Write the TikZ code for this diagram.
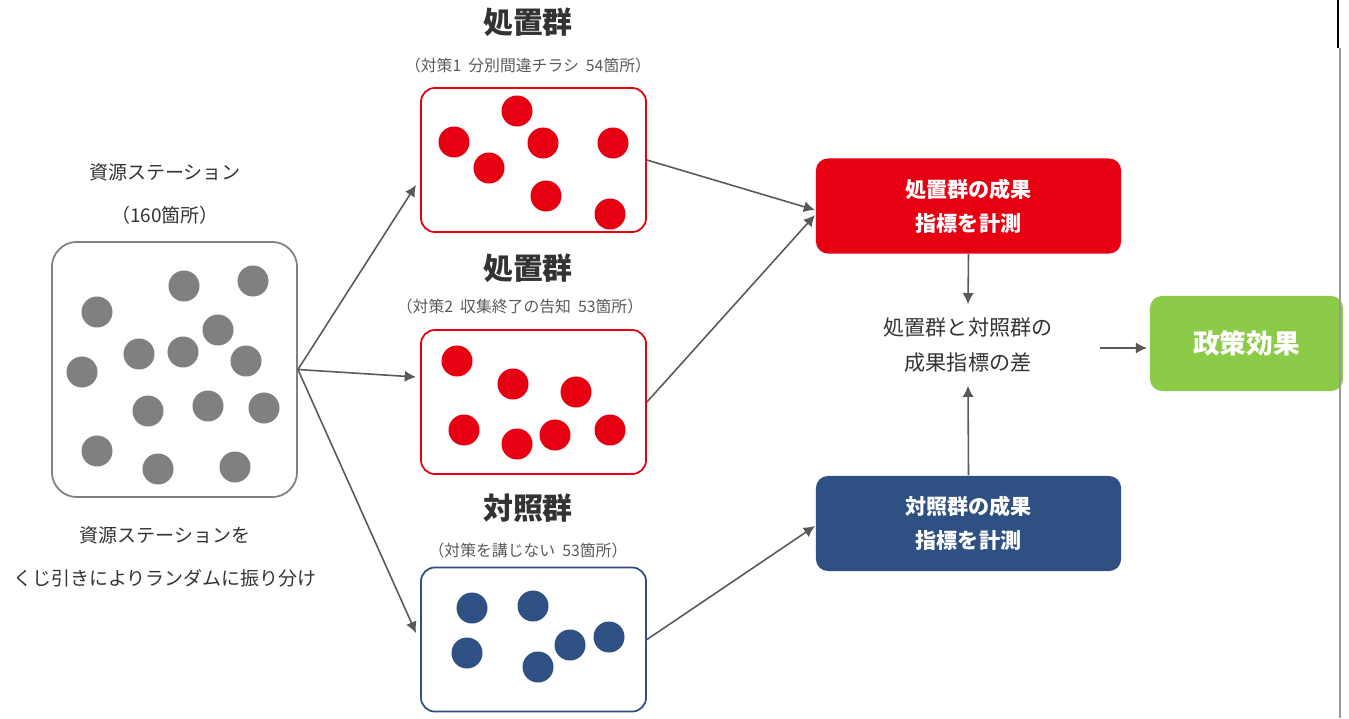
\documentclass[tikz,border=0pt]{standalone}
\usepackage{fontspec}
\setmainfont{Noto Sans CJK JP}
\usetikzlibrary{arrows.meta}

\definecolor{dotgray}{HTML}{808080}
\definecolor{treatred}{HTML}{E60012}
\definecolor{ctrlblue}{HTML}{2E5082}
\definecolor{effgreen}{HTML}{8CCB48}
\definecolor{arrgray}{HTML}{595959}

\newcommand{\fsbig}{\fontsize{8.5}{10}\selectfont\bfseries}
\newcommand{\fsmid}{\fontsize{5.4}{12.2}\selectfont}
\newcommand{\fssub}{\fontsize{4.5}{5}\selectfont}
\newcommand{\fsbox}{\fontsize{6}{9.7}\selectfont}

\tikzset{
  grpbox/.style={draw, line width=0.5pt, rounded corners=0.14cm, minimum width=2.25cm, minimum height=1.44cm},
  resbox/.style={rounded corners=0.12cm, minimum width=3.05cm, minimum height=0.95cm, text=white, align=center, font=\fsbox\bfseries},
  flow/.style={draw=arrgray, line width=0.45pt, -{Latex[length=3.2pt, width=3.2pt]}},
  lbl/.style={align=center, text=black!80, inner sep=0pt},
}

\begin{document}
\begin{tikzpicture}[x=0.01cm, y=-0.01cm]

        \def\r{0.155cm}

        \useasboundingbox (0,0) rectangle (1349,718);

        % resource stations
        \node[grpbox, draw=dotgray, minimum width=2.45cm, minimum height=2.55cm, rounded corners=0.25cm] (pool) at (174.5,369.5) {};
        \foreach \x/\y in {97/312, 184/286, 253/281, 218/330, 139/354, 183/352, 246/361, 82/372, 148/411, 208/406, 264/408, 97/451, 158/469, 235/467} {
            \fill[dotgray] (\x, \y) circle (\r);
        }
        \node[lbl, font=\fsmid] (pooltitle) at (165,194) {資源ステーション\\（160箇所）};
        \node[lbl, font=\fsmid] (poolnote) at (165,557) {資源ステーションを\\くじ引きによりランダムに振り分け};

        % treatment group 1
        \node[grpbox, draw=treatred] (treatA) at (533.5,160) {};
        \foreach \x/\y in {454/142, 517/111, 543/143, 489/168, 613/143, 546/196, 610/214} {
            \fill[treatred] (\x, \y) circle (\r);
        }
        \node[lbl, font=\fsbig] (treatAtitle) at (528,22) {処置群};
        \node[lbl, font=\fssub, text=black!65] (treatAsub) at (528,65) {（対策1\ \ 分別間違チラシ\ \ 54箇所）};

        % treatment group 2
        \node[grpbox, draw=treatred] (treatB) at (533.5,402) {};
        \foreach \x/\y in {457/361, 513/384, 576/392, 464/430, 517/444, 555/435, 610/430} {
            \fill[treatred] (\x, \y) circle (\r);
        }
        \node[lbl, font=\fsbig] (treatBtitle) at (528,268) {処置群};
        \node[lbl, font=\fssub, text=black!65] (treatBsub) at (520,306) {（対策2\ \ 収集終了の告知\ \ 53箇所）};

        % control group
        \node[grpbox, draw=ctrlblue] (ctrl) at (533.5,639.5) {};
        \foreach \x/\y in {472/608, 533/606, 609/637, 570/645, 467/653, 538/667} {
            \fill[ctrlblue] (\x, \y) circle (\r);
        }
        \node[lbl, font=\fsbig] (ctrltitle) at (528,508) {対照群};
        \node[lbl, font=\fssub, text=black!65] (ctrlsub) at (528,550) {（対策を講じない\ \ 53箇所）};

        % outcome measures
        \node[resbox, fill=treatred] (treatres) at (968.5,206) {処置群の成果\\指標を計測};
        \node[resbox, fill=ctrlblue] (ctrlres) at (968.5,523.5) {対照群の成果\\指標を計測};
        \node[lbl, font=\fsbox, minimum height=0.8cm] (diff) at (968,345) {処置群と対照群の\\成果指標の差};
        \node[resbox, fill=effgreen, minimum width=1.93cm, minimum height=0.95cm, font=\fontsize{7.6}{9}\selectfont\bfseries] (effect) at (1246.5,343.5) {政策効果};

        % arrow ends
        \coordinate (inA) at (416,185);
        \coordinate (inB) at (416,377);
        \coordinate (inC) at (416,633);
        \coordinate (outA) at (815,210);
        \coordinate (outB) at (815,215);
        \coordinate (outC) at (815,526);
        \coordinate (diffout) at (1100,348);
        \coordinate (effin) at (1147,348);

        \draw[flow] (pool.east) -- (inA);
        \draw[flow] (pool.east) -- (inB);
        \draw[flow] (pool.east) -- (inC);
        \draw[flow] (treatA.east) -- (outA);
        \draw[flow] (treatB.east) -- (outB);
        \draw[flow] (ctrl.east) -- (outC);
        \draw[flow] (treatres.south) -- (diff.north);
        \draw[flow] (ctrlres.north) -- (diff.south);
        \draw[flow] (diffout) -- (effin);

        % page edge
        \draw[black, line width=0.4pt] (1338,0) -- (1338,48);
        \draw[black!40, line width=0.8pt] (1340,48) -- (1340,718);

\end{tikzpicture}
\end{document}
